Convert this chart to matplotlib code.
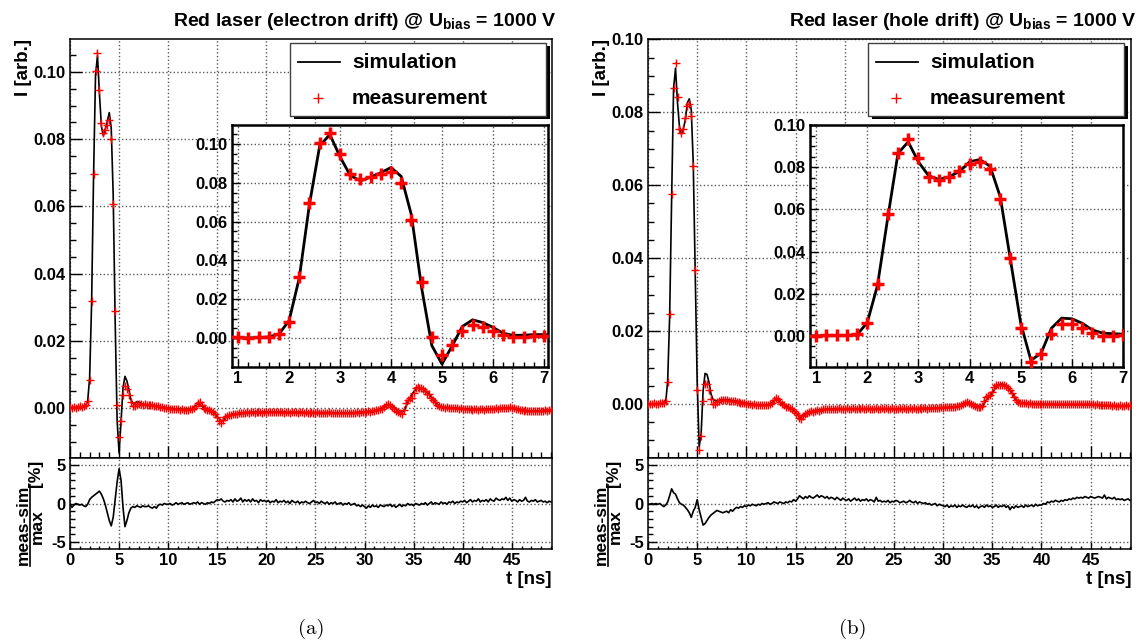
"""
Red laser TCT pulses: simulation vs measurement, electron / hole drift.
Writes out.png (1144 x 644).
"""
import numpy as np
import matplotlib
matplotlib.use("Agg")
import matplotlib.pyplot as plt
from matplotlib.lines import Line2D
from matplotlib.patches import Rectangle
from matplotlib.ticker import MultipleLocator, FormatStrFormatter

plt.rcParams.update({
    "font.family": ["Liberation Sans", "DejaVu Sans"],
    "font.weight": "bold",
    "axes.unicode_minus": False,
    "mathtext.fontset": "custom",
    "mathtext.bf": "Liberation Sans:bold",
    "mathtext.rm": "Liberation Sans:bold",
    "mathtext.it": "Liberation Sans:bold",
})

# ── Data ─────────────────────────────────────────────────────────────────────
# measurement sampled every 0.2 ns, 0 .. 49 ns  (values in 1e-4 arb.)
t_meas = np.arange(0, 49.01, 0.2)
# simulation: 0.2 ns steps up to 7 ns, then 0.5 ns steps
t_sim = np.concatenate([np.arange(0, 7.01, 0.2), np.arange(7.5, 49.01, 0.5)])

meas_e = np.array([
    2, 0, 3, 1, 4, 5, 3, 5, 8, 20,
    84, 317, 697, 1003, 1057, 946, 848, 819, 828, 843,
    857, 800, 608, 289, 8, -86, -38, 39, 65, 57,
    39, 17, 5, 6, 11, 11, 12, 10, 11, 9,
    10, 8, 9, 7, 6, 5, 4, 2, 1, 0,
    -1, -2, -3, -2, -4, -3, -5, -4, -5, -6,
    -5, -4, -3, 0, 6, 15, 18, 8, 0, -3,
    -6, -5, -8, -12, -18, -28, -38, -44, -35, -28,
    -24, -22, -20, -18, -19, -17, -15, -16, -14, -15,
    -13, -14, -12, -13, -14, -12, -13, -12, -14, -13,
    -12, -13, -11, -12, -13, -12, -11, -13, -12, -14,
    -13, -12, -14, -13, -12, -13, -14, -12, -13, -14,
    -13, -15, -14, -13, -14, -15, -13, -14, -15, -14,
    -15, -14, -13, -15, -14, -16, -15, -14, -15, -16,
    -15, -14, -16, -15, -14, -15, -13, -14, -12, -13,
    -11, -12, -10, -11, -9, -8, -7, -6, -4, -3,
    2, 8, 12, 9, 3, -2, -8, -12, -15, -17,
    -5, 15, 25, 30, 30, 45, 60, 62, 60, 58,
    55, 50, 42, 40, 30, 25, 18, 10, 5, 3,
    2, 1, 2, 0, 1, 0, -1, 0, -2, -1,
    -2, -3, -2, -4, -3, -5, -4, -3, -5, -4,
    -3, -5, -4, -3, -4, -2, -3, -1, -2, 0,
    -1, 1, 0, -1, 2, 0, -1, -2, -3, -5,
    -6, -8, -7, -9, -8, -10, -9, -8, -9, -10,
    -8, -9, -7, -8, -6, -7,
]) * 1e-4

sim_e = np.array([
    1, 1, 1, 1, 1, 1, 1, 2, 6, 20,
    90, 310, 690, 990, 1049, 934, 838, 810, 830, 852,
    879, 833, 634, 260, -38, -134, -40, 60, 94, 80,
    55, 25, 14, 15, 18, 18,
    10, 9, 7, 5, 2,
    0, -2, -3, -4, -4, -2, 12, 4, -4, -10,
    -26, -40, -25, -19, -17, -15, -14, -13, -13, -13,
    -12, -12, -12, -12, -13, -13, -13, -13, -14, -14,
    -14, -14, -14, -14, -15, -15, -15, -15, -14, -13,
    -12, -10, -8, -5, 3, 10, 2, -8, -10, 22,
    48, 62, 56, 44, 26, 8, 2, 1, 0, -1,
    -2, -3, -4, -4, -4, -3, -3, -2, -1, 0,
    0, -2, -6, -8, -9, -9, -8, -7, -7,
]) * 1e-4

# (meas - sim) / max  in units of 0.1 %
res_e = np.array([
    -1, -5, -2, 0, -1, -2, -1, -3, -4, -1,
    5, 8, 10, 12, 14, 16, 12, 6, -2, -12,
    -22, -29, -18, 5, 28, 45, 30, -5, -30, -22,
    -12, -6, -4, -5, -3, -4, -5, -3, -4, -4,
    -3, -5, -6, -4, -6, -2, -1, -2, 0, -1,
    -1, 0, -2, -1, 1, -1, 0, 1, -1, 0,
    1, -1, 0, 1, 0, 2, -1, 1, 0, -1,
    1, 0, 2, 1, 3, 5, 4, 6, 3, 2,
    4, 3, 5, 2, 6, 3, 4, 7, 2, 5,
    3, 5, 2, 6, 3, 4, 1, 5, 3, 4,
    2, 4, 1, 3, 2, 5, 1, 3, 2, 4,
    1, 3, 0, 4, 2, 1, 3, 0, 2, 1,
    3, 1, 0, 2, 4, 1, 2, 0, 3, 1,
    0, 2, -1, 1, 0, 2, -1, 0, 1, -2,
    0, -1, 1, -2, -1, 0, -3, -2, -4, -2,
    -4, -6, -3, -5, -2, -4, -3, -5, -2, -3,
    -4, -2, -3, -1, -4, -2, -5, -3, -1, -4,
    -2, -3, 0, -2, -1, -3, 0, -1, -2, 0,
    -1, 1, -2, 0, 2, -1, 1, 0, -1, 2,
    0, 1, -1, 2, 1, 3, 0, 2, 1, 3,
    2, 4, 1, 3, 5, 2, 4, 3, 6, 2,
    4, 3, 5, 2, 6, 4, 3, 7, 5, 4,
    6, 5, 8, 4, 7, 3, 5, 4, 2, 5,
    3, 4, 8, 3, 2, 4, 3, 5, 2, 3,
    4, 2, 3, 1, 3, 2,
]) * 0.1

meas_h = np.array([
    0, 1, 0, 2, 1, 0, 2, 2, 3, 8,
    60, 246, 577, 866, 934, 842, 755, 742, 755, 784,
    818, 823, 791, 652, 368, 39, -125, -87, 8, 55,
    55, 39, 13, 0, 0, 5, 8, 10, 12, 11,
    10, 9, 8, 7, 7, 6, 5, 4, 3, 2,
    1, 0, -1, -2, -1, -3, -2, -4, -3, -4,
    -3, -2, 0, 4, 10, 16, 14, 6, 0, -4,
    -8, -7, -10, -14, -18, -24, -30, -38, -41, -34,
    -28, -25, -22, -20, -21, -18, -17, -18, -16, -15,
    -14, -15, -13, -14, -15, -13, -14, -12, -13, -14,
    -13, -12, -14, -13, -12, -13, -14, -12, -13, -12,
    -13, -14, -12, -13, -14, -13, -12, -14, -13, -12,
    -13, -12, -14, -13, -12, -13, -14, -13, -12, -13,
    -12, -13, -14, -12, -13, -12, -13, -14, -12, -13,
    -12, -11, -13, -12, -11, -12, -10, -11, -10, -9,
    -10, -9, -8, -9, -8, -7, -8, -6, -5, -3,
    -1, 2, 5, 4, 1, -3, -6, -8, -9, -7,
    -5, 8, 20, 22, 25, 32, 48, 52, 53, 52,
    53, 51, 50, 45, 38, 30, 20, 12, 6, 4,
    3, 2, 2, 1, 2, 1, 0, 1, 0, 1,
    0, 1, 0, -1, 0, 1, 0, -1, 0, 1,
    0, -1, 0, 1, 0, -1, 1, 0, -1, 0,
    1, 0, -1, 0, 1, -1, 0, -2, -1, -2,
    -3, -2, -4, -3, -2, -4, -5, -4, -6, -5,
    -4, -6, -5, -4, -5, -3,
]) * 1e-4

sim_h = np.array([
    0, 0, 0, 0, 0, 0, 0, 1, 2, 5,
    63, 240, 560, 866, 921, 826, 760, 742, 755, 780,
    826, 837, 806, 660, 360, 60, -117, -82, 36, 84,
    81, 60, 28, 13, 10, 8,
    12, 12, 10, 8, 5,
    2, 0, -2, -3, -3, 0, 14, 5, -6, -12,
    -22, -36, -30, -22, -18, -16, -15, -14, -14, -14,
    -14, -14, -14, -14, -14, -14, -14, -14, -14, -14,
    -14, -14, -13, -13, -13, -13, -12, -12, -12, -11,
    -10, -10, -9, -7, -2, 5, 1, -5, -6, 15,
    30, 52, 55, 50, 32, 10, 3, 2, 1, 0,
    0, -1, -1, -2, -2, -2, -2, -2, -2, -2,
    -2, -3, -4, -5, -6, -6, -6, -6, -5,
]) * 1e-4

res_h = np.array([
    0, -1, 0, -1, 0, -1, 0, -2, -4, -2,
    2, 10, 19, 14, 12, 6, 1, -1, -2, -5,
    -8, -12, -18, -10, -5, 5, -8, -18, -28, -26,
    -22, -18, -15, -13, -11, -9, -10, -11, -12, -11,
    -10, -12, -8, -10, -7, -5, -6, -4, -5, -3,
    -4, -2, -3, -1, -2, -3, -1, -2, 0, -1,
    0, 1, -1, 0, 2, 1, 0, 2, 1, 0,
    2, 1, 3, 2, 5, 3, 6, 10, 8, 6,
    9, 7, 10, 8, 7, 9, 11, 8, 10, 9,
    7, 9, 6, 8, 7, 5, 8, 6, 4, 7,
    5, 4, 6, 3, 5, 7, 4, 6, 3, 5,
    4, 6, 3, 5, 4, 2, 8, 3, 4, 2,
    3, 2, 4, 1, 3, 2, 4, 3, 1, 2,
    3, 1, 2, 4, 2, 1, 3, 0, 2, 1,
    0, 1, -1, 0, -2, -1, 0, -3, -1, -2,
    -3, -4, -2, -5, -3, -4, -2, -5, -3, -4,
    -2, -4, -5, -3, -4, -2, -5, -3, -6, -4,
    -3, -5, -2, -4, -3, -5, -4, -2, -5, -3,
    -4, -2, -5, -3, -8, -4, -6, -3, -5, -4,
    -3, -5, -2, -4, -3, -2, -4, -1, -3, -2,
    -2, 0, -1, 2, 1, 3, 2, 4, 3, 2,
    4, 3, 5, 4, 6, 5, 7, 6, 8, 7,
    8, 7, 9, 8, 7, 9, 8, 7, 8, 9,
    8, 7, 11, 6, 8, 7, 6, 8, 5, 6,
    5, 6, 4, 5, 6, 4,
]) * 0.1

meas_err = 0.0005

# ── Layout (pixel boxes in the 1144 x 644 canvas) ───────────────────────────
W, H = 1144, 644
RED = "#ff0000"
GRID = "0.35"


def box(x0, y0, x1, y1):
    return [x0 / W, 1 - y1 / H, (x1 - x0) / W, (y1 - y0) / H]


def fx(x):
    return x / W


def fy(y):
    return 1 - y / H


def style(ax, xmaj, xmin, ymaj, ymin, lmaj, lmin, lw=1.1):
    ax.xaxis.set_major_locator(MultipleLocator(xmaj))
    ax.xaxis.set_minor_locator(MultipleLocator(xmin))
    ax.yaxis.set_major_locator(MultipleLocator(ymaj))
    ax.yaxis.set_minor_locator(MultipleLocator(ymin))
    ax.tick_params(which="both", direction="in", top=False, right=False,
                   labelsize=12, width=1.0, pad=3)
    ax.tick_params(which="major", length=lmaj)
    ax.tick_params(which="minor", length=lmin)
    ax.grid(which="major", ls=":", color=GRID, lw=1.0)
    ax.set_axisbelow(True)
    for sp in ax.spines.values():
        sp.set_linewidth(lw)


fig = plt.figure(figsize=(W / 100, H / 100), dpi=100)

panels = [
    dict(dx=0, x1=552, ix=(232, 548), ylim=(-0.0149, 0.1098), ixlim=(0.88, 7.08),
         meas=meas_e, sim=sim_e, res=res_e, title_x=556, letter="(a)", letter_x=311,
         title=r"Red laser (electron drift) @ U$_{\mathbf{bias}}$ = 1000 V"),
    dict(dx=578, x1=1131, ix=(810, 1123), ylim=(-0.0148, 0.1001), ixlim=(0.88, 7.0),
         meas=meas_h, sim=sim_h, res=res_h, title_x=1136, letter="(b)", letter_x=853,
         title=r"Red laser (hole drift) @ U$_{\mathbf{bias}}$ = 1000 V"),
]

for p in panels:
    dx = p["dx"]
    x0 = 70 + dx

    # main pad
    ax = fig.add_axes(box(x0, 39, p["x1"], 458))
    ax.errorbar(t_meas, p["meas"], xerr=0.1, yerr=meas_err, fmt="none",
                ecolor="#ff8080", elinewidth=1.2, alpha=0.55, zorder=2)
    ax.plot(t_sim, p["sim"], color="k", lw=1.2, zorder=3)
    ax.plot(t_meas, p["meas"], ls="none", marker="+", ms=6, mew=1.0,
            color=RED, zorder=4)
    ax.set_xlim(0, 49.1)
    ax.set_ylim(*p["ylim"])
    style(ax, 5, 1, 0.02, 0.005, 8.5, 4.3)
    ax.yaxis.set_major_formatter(FormatStrFormatter("%.2f"))
    ax.tick_params(labelbottom=False)

    # ratio pad
    ar = fig.add_axes(box(x0, 458, p["x1"], 549))
    ar.plot(t_meas, p["res"], color="k", lw=1.2)
    ar.set_xlim(0, 49.1)
    ar.set_ylim(-5.9, 5.9)
    style(ar, 5, 1, 5, 1, 6.5, 3.5)
    ar.tick_params(axis="x", which="major", length=5)
    ar.tick_params(axis="x", which="minor", length=2.5)

    # zoomed inset
    ai = fig.add_axes(box(p["ix"][0], 125, p["ix"][1], 367))
    ai.set_facecolor("white")
    ai.plot(t_sim, p["sim"], color="k", lw=2.0, zorder=3)
    ai.plot(t_meas, p["meas"], ls="none", marker="+", ms=8, mew=2.5,
            color=RED, zorder=4)
    ai.set_xlim(*p["ixlim"])
    ai.set_ylim(*p["ylim"])
    style(ai, 1, 0.2, 0.02, 0.005, 6, 3.5, lw=1.8)
    ai.yaxis.set_major_formatter(FormatStrFormatter("%.2f"))

    # legend box with shadow
    lx0, ly0, lx1, ly1 = 290 + dx, 43, 546 + dx, 116
    fig.patches.append(Rectangle((fx(lx0 + 4), fy(ly1 + 3)), (lx1 - lx0) / W,
                                 (ly1 - ly0) / H, transform=fig.transFigure,
                                 facecolor="black", edgecolor="none", zorder=5))
    fig.patches.append(Rectangle((fx(lx0), fy(ly1)), (lx1 - lx0) / W,
                                 (ly1 - ly0) / H, transform=fig.transFigure,
                                 facecolor="white", edgecolor="0.25", lw=1.0,
                                 zorder=6))
    fig.lines.append(Line2D([fx(298 + dx), fx(340 + dx)], [fy(62), fy(62)],
                            transform=fig.transFigure, color="k", lw=1.3,
                            zorder=7))
    fig.lines.append(Line2D([fx(318 + dx)], [fy(98)], transform=fig.transFigure,
                            ls="none", marker="+", ms=7, mew=1.0, color=RED,
                            zorder=7))
    fig.text(fx(352 + dx), fy(62), "simulation", fontsize=15, ha="left",
             va="center", zorder=7)
    fig.text(fx(352 + dx), fy(98), "measurement", fontsize=15, ha="left",
             va="center", zorder=7)

    # titles and axis labels
    fig.text(fx(p["title_x"]), fy(22), p["title"], fontsize=14, ha="right",
             va="center")
    fig.text(fx(23 + dx), fy(39), "I [arb.]", fontsize=13.5, rotation=90,
             ha="center", va="top")
    fig.text(fx(p["x1"]), fy(580), "t [ns]", fontsize=13.5, ha="right",
             va="center")

    # (meas-sim)/max [%] written as a fraction
    fig.text(fx(36 + dx), fy(460), "[%]", fontsize=12.5, rotation=90,
             ha="center", va="top")
    fig.text(fx(23 + dx), fy(525), "meas-sim", fontsize=12.5, rotation=90,
             ha="center", va="center")
    fig.text(fx(37 + dx), fy(527), "max", fontsize=12.5, rotation=90,
             ha="center", va="center")
    fig.lines.append(Line2D([fx(30 + dx), fx(30 + dx)], [fy(485), fy(566)],
                            transform=fig.transFigure, color="k", lw=1.2))

    fig.text(fx(p["letter_x"]), fy(629), p["letter"], fontsize=15,
             fontfamily="cmr10", fontweight="normal", ha="center", va="center")

fig.savefig("out.png", dpi=100, facecolor="white")
